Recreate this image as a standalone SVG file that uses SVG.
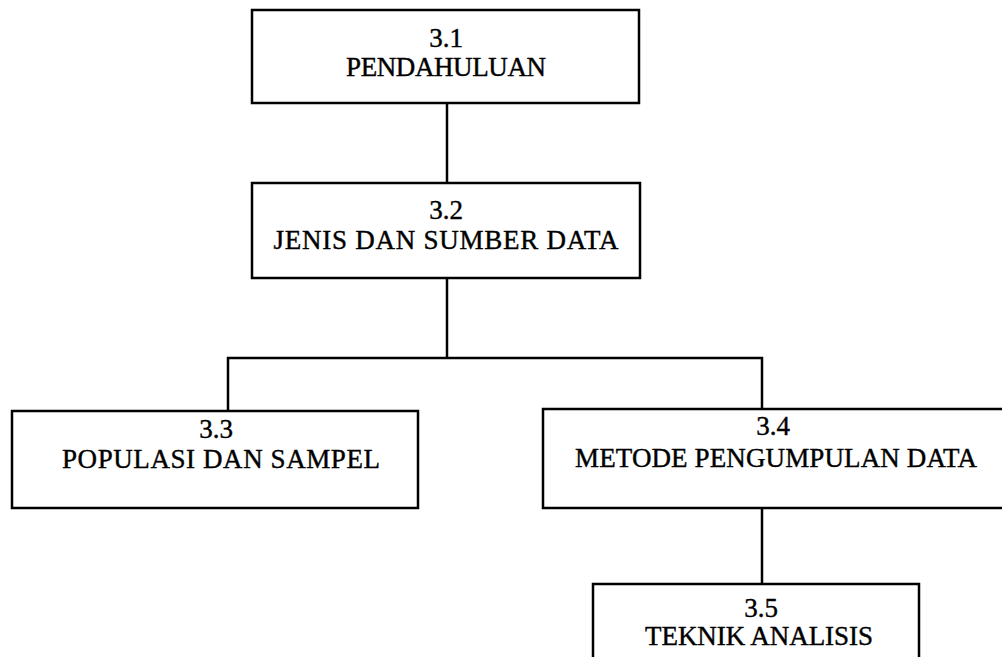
<svg xmlns="http://www.w3.org/2000/svg" width="1002" height="657" viewBox="0 0 1002 657">
  <style>
    .box { fill: #ffffff; stroke: #000000; stroke-width: 2.5; }
    .link { fill: none; stroke: #000000; stroke-width: 2.5; }
    .label { font-family: "Liberation Serif", "Times New Roman", serif; font-size: 27px; fill: #000000; stroke: #000000; stroke-width: 0.4; text-anchor: middle; }
  </style>
  <rect width="1002" height="657" fill="#ffffff"/>

  <!-- connectors -->
  <g id="connectors">
    <line class="link" x1="447" y1="103" x2="447" y2="183"/>
    <line class="link" x1="447" y1="278" x2="447" y2="358"/>
    <polyline class="link" points="228,411 228,358 762,358 762,409"/>
    <line class="link" x1="762" y1="508" x2="762" y2="584"/>
  </g>

  <g id="node-3-1">
    <rect class="box" x="252" y="10" width="387" height="93"/>
    <text class="label" x="446" y="47">3.1</text>
    <text class="label" x="446" y="76" textLength="200">PENDAHULUAN</text>
  </g>

  <g id="node-3-2">
    <rect class="box" x="252" y="183" width="388" height="95"/>
    <text class="label" x="446" y="219">3.2</text>
    <text class="label" x="446" y="249" textLength="345">JENIS DAN SUMBER DATA</text>
  </g>

  <g id="node-3-3">
    <rect class="box" x="12" y="411" width="406" height="97"/>
    <text class="label" x="216" y="438">3.3</text>
    <text class="label" x="221" y="468" textLength="318">POPULASI DAN SAMPEL</text>
  </g>

  <g id="node-3-4">
    <rect class="box" x="543" y="409" width="470" height="99"/>
    <text class="label" x="773" y="435">3.4</text>
    <text class="label" x="776" y="467" textLength="402">METODE PENGUMPULAN DATA</text>
  </g>

  <g id="node-3-5">
    <rect class="box" x="593" y="584" width="326" height="90"/>
    <text class="label" x="761" y="617">3.5</text>
    <text class="label" x="759" y="645" textLength="228">TEKNIK ANALISIS</text>
  </g>
</svg>
